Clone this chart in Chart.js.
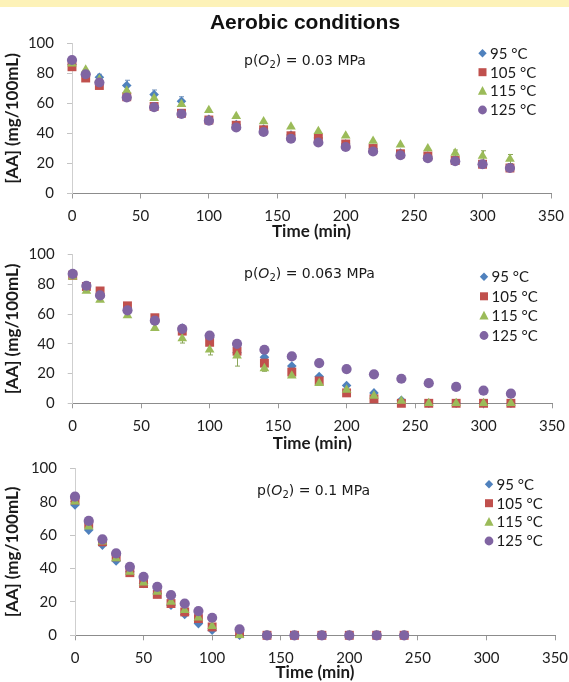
<!DOCTYPE html>
<html><head><meta charset="utf-8">
<script src="https://cdn.jsdelivr.net/npm/chart.js@4.4.1/dist/chart.umd.min.js"></script>
<style>
body{margin:0;background:#fff;width:569px;height:682px;position:relative;overflow:hidden}
.band{position:absolute;left:0;top:0;width:569px;height:7px;background:#fdf2b8}
canvas{position:absolute;left:0}
.title{position:absolute;left:185px;width:240px;top:10px;text-align:center;font:bold 21px "Liberation Sans",Arial,sans-serif;color:#111;line-height:24px;white-space:nowrap}
.note{position:absolute;font:14px "DejaVu Sans",sans-serif;color:#1a1a1a;white-space:nowrap;line-height:18px}
.note sub{font-size:10px;vertical-align:-3px;line-height:0}
</style></head>
<body>
<div class="band"></div>
<canvas id="c1" width="569" height="242" style="top:0px"></canvas>
<canvas id="c2" width="569" height="214" style="top:240px"></canvas>
<canvas id="c3" width="569" height="228" style="top:455px"></canvas>
<div class="title">Aerobic conditions</div>
<div class="note" style="left:244px;top:51px">p(<i>O</i><sub>2</sub>) = 0.03 MPa</div>
<div class="note" style="left:244px;top:264px">p(<i>O</i><sub>2</sub>) = 0.063 MPa</div>
<div class="note" style="left:257px;top:481px">p(<i>O</i><sub>2</sub>) = 0.1 MPa</div>
<script>
// ---- data ----
const seriesLabels = ['95 °C', '105 °C', '115 °C', '125 °C'];
const xTickValues = [0, 50, 100, 150, 200, 250, 300, 350];
const yTickValues = [0, 20, 40, 60, 80, 100];

// panel 1: p(O2) = 0.03 MPa
const times1 = [0,10,20,40,60,80,100,120,140,160,180,200,220,240,260,280,300,320];
const p1_95  = [86,80,77.5,72,66,61.5,49.5,46,43,39,37,33,30,27,25,22,19.5,17];
const p1_105 = [84.5,77,72,64.5,58,53.5,49,45.5,42.5,38.5,37,33,30,26.5,25,22,19.5,17];
const p1_115 = [86.5,82.5,76,68.5,63.5,59.5,55.5,51.5,48,44.5,41.5,38.5,35,32.5,30,27,25,23];
const p1_125 = [89,79.5,74,64,57.5,53,48.5,44,41,36.5,34,31,28,25.5,23.5,21.5,19.5,17];
const p1_err95  = [0,0,2,3.5,3,3,0,0,0,0,0,0,0,0,0,0,0,0];
const p1_err115 = [0,0,0,0,0,0,0,0,0,0,0,0,0,0,0,2,3.5,3];

// panel 2: p(O2) = 0.063 MPa
const times2 = [0,10,20,40,60,80,100,120,140,160,180,200,220,240,260,280,300,320];
const p2_95  = [86.5,78.5,72,64,56,50.5,44,34,31,25,18,12,7,2,0,0,0,0];
const p2_105 = [86,78.5,75.5,65.5,57.5,48.5,41,35,27,21,15,7,3,0,0,0,0,0];
const p2_115 = [85,75.5,69.5,59,50.5,43.5,36,32,23.5,18.5,13.5,9,5,1.5,0,0,0,0];
const p2_125 = [87,79,72.5,62.5,55.5,50,45.5,40,36,31.5,27,23,19.5,16.5,13.5,11,8.5,6.5];
const p2_err115 = [0,0,0,0,0,3,3.5,7,2,0,0,0,0,0,0,0,0,0];

// panel 3: p(O2) = 0.1 MPa
const times3 = [0,10,20,30,40,50,60,70,80,90,100,120,140,160,180,200,220,240];
const p3_95  = [78,63,54,44.5,38,31,25,18,12.5,7,3,0,0,0,0,0,0,0];
const p3_105 = [81,66.5,56,47,37.5,31,24.5,19,14,10,5,1,0,0,0,0,0,0];
const p3_115 = [80,65,56,46,38,31.5,26,20,15,10.5,5.5,0,0,0,0,0,0,0];
const p3_125 = [83,68.5,57.5,49,41,35,29,24,19,14.5,10.5,3.5,0,0,0,0,0,0];

// ---- styles ----
const colors = ['#4F81BD', '#C0504D', '#9BBB59', '#8064A2'];
const styles = ['rectRot', 'rect', 'triangle', 'circle'];
const radii = [4.8, 6.3, 5.6, 5.1];
const orders = [4, 3, 2, 1];

function drawMarker(ctx, style, x, y, s) {
  ctx.beginPath();
  if (style === 'rectRot') { ctx.moveTo(x, y - s); ctx.lineTo(x + s, y); ctx.lineTo(x, y + s); ctx.lineTo(x - s, y); ctx.closePath(); }
  else if (style === 'rect') { ctx.rect(x - s, y - s, 2 * s, 2 * s); }
  else if (style === 'triangle') { ctx.moveTo(x, y - s * 1.1); ctx.lineTo(x + s, y + s * 0.8); ctx.lineTo(x - s, y + s * 0.8); ctx.closePath(); }
  else { ctx.arc(x, y, s, 0, Math.PI * 2); }
  ctx.fill();
}
const legendSizes = {rectRot: 4.2, rect: 4, triangle: 4.6, circle: 4.4};

const markerLegend = {
  id: 'markerLegend',
  afterDraw(chart, args, o) {
    const ctx = chart.ctx;
    ctx.save();
    chart.data.datasets.forEach((ds, i) => {
      const y = o.y + i * o.dy;
      ctx.fillStyle = ds.backgroundColor;
      drawMarker(ctx, ds.pointStyle, o.x, y, legendSizes[ds.pointStyle]);
      ctx.fillStyle = '#1a1a1a';
      ctx.font = '15px Lato';
      ctx.textBaseline = 'middle';
      ctx.textAlign = 'left';
      ctx.fillText(ds.label, o.x + 7.5, y + 0.5);
    });
    ctx.restore();
  }
};

const errorBars = {
  id: 'errorBars',
  beforeDatasetsDraw(chart) {
    const ctx = chart.ctx, xs = chart.scales.x, ys = chart.scales.y;
    ctx.save();
    ctx.lineWidth = 1;
    chart.data.datasets.forEach(ds => {
      if (!ds.errors) return;
      ctx.strokeStyle = ds.errColor || '#888';
      ds.errors.forEach((e, i) => {
        if (!e) return;
        const pt = ds.data[i];
        const px = Math.round(xs.getPixelForValue(pt.x)) + 0.5;
        const yt = ys.getPixelForValue(pt.y + e), yb = ys.getPixelForValue(Math.max(0, pt.y - e));
        ctx.beginPath();
        ctx.moveTo(px, yt); ctx.lineTo(px, yb);
        ctx.moveTo(px - 2.5, yt); ctx.lineTo(px + 2.5, yt);
        ctx.moveTo(px - 2.5, yb); ctx.lineTo(px + 2.5, yb);
        ctx.stroke();
      });
    });
    ctx.restore();
  }
};

function zeroPad(s) { s.paddingTop = 0; s.paddingBottom = 0; s.paddingLeft = 0; s.paddingRight = 0; }

function makePanel(id, L, times, series, errs) {
  const canvasH = document.getElementById(id).height;
  const datasets = series.map((vals, i) => ({
    label: seriesLabels[i],
    data: times.map((t, k) => ({x: t, y: vals[k]})),
    pointStyle: styles[i],
    pointRadius: radii[i],
    pointHoverRadius: radii[i],
    backgroundColor: colors[i],
    borderColor: colors[i],
    pointBorderWidth: 0,
    showLine: false,
    clip: false,
    order: orders[i],
    errors: errs[i] || null,
    errColor: i === 2 ? '#8aa65a' : '#6f8fb8'
  }));
  new Chart(document.getElementById(id), {
    type: 'scatter',
    data: {datasets},
    plugins: [errorBars, markerLegend],
    options: {
      responsive: false,
      animation: false,
      devicePixelRatio: 1,
      layout: {padding: {left: 0, top: L.plotTop - L.canvasTop, right: 569 - L.plotRight, bottom: 0}},
      plugins: {
        legend: {display: false},
        tooltip: {enabled: false},
        markerLegend: {x: L.legX, y: L.legY - L.canvasTop, dy: L.legDy}
      },
      scales: {
        x: {
          type: 'linear', min: 0, max: 350,
          afterBuildTicks: s => { s.ticks = xTickValues.map(v => ({value: v})); },
          afterFit: s => { s.height = canvasH - (L.plotBottom - L.canvasTop); zeroPad(s); },
          grid: {drawOnChartArea: false, drawTicks: true, tickLength: 5, color: '#9a9a9a'},
          border: {display: true, color: '#8c8c8c', width: 1},
          ticks: {font: {family: 'Lato', size: 15}, color: '#1e1e1e', padding: 9, maxRotation: 0},
          title: {display: true, text: 'Time (min)', font: {family: 'Lato', size: 17, weight: 'bold'}, color: '#1a1a1a', padding: {top: 0, bottom: 0}}
        },
        y: {
          type: 'linear', min: 0, max: 100,
          afterBuildTicks: s => { s.ticks = yTickValues.map(v => ({value: v})); },
          afterFit: s => { s.width = L.plotLeft; zeroPad(s); },
          grid: {drawOnChartArea: false, drawTicks: true, tickLength: 5, color: '#c4c4c4'},
          border: {display: true, color: '#cfcfcf', width: 1},
          ticks: {font: {family: 'Lato', size: 15}, color: '#1e1e1e', padding: 13},
          title: {display: true, text: '[AA] (mg/100mL)', font: {family: 'Lato', size: 17, weight: 'bold'}, color: '#1a1a1a', padding: {top: 2, bottom: 0}}
        }
      }
    }
  });
}

makePanel('c1', {canvasTop: 0, plotTop: 43.5, plotBottom: 193.5, plotLeft: 72, plotRight: 551, legX: 482.5, legY: 53.3, legDy: 18.9},
  times1, [p1_95, p1_105, p1_115, p1_125], [p1_err95, null, p1_err115, null]);
makePanel('c2', {canvasTop: 240, plotTop: 254.5, plotBottom: 403.3, plotLeft: 72.7, plotRight: 552, legX: 484, legY: 276.7, legDy: 19.6},
  times2, [p2_95, p2_105, p2_115, p2_125], [null, null, p2_err115, null]);
makePanel('c3', {canvasTop: 455, plotTop: 468.3, plotBottom: 635.3, plotLeft: 75, plotRight: 555, legX: 489, legY: 484.3, legDy: 18.9},
  times3, [p3_95, p3_105, p3_115, p3_125], [null, null, null, null]);
</script>
</body></html>
